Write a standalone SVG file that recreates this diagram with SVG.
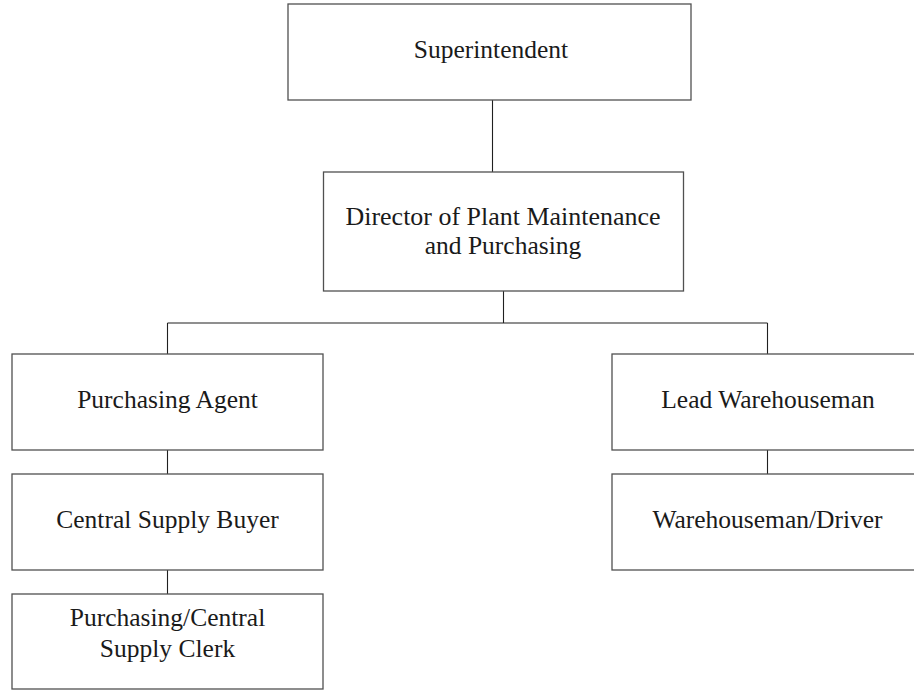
<svg xmlns="http://www.w3.org/2000/svg" width="914" height="690" viewBox="0 0 914 690">
<style>
.box{fill:#fff;stroke:#505050;stroke-width:1.3}
.lbl{font-family:"Liberation Serif","Times New Roman",serif;font-size:25.5px;fill:#1a1a1a;text-anchor:middle}
.con{stroke:#202020;stroke-width:1.1;fill:none}
</style>
<rect width="914" height="690" fill="#fff"/>
<g id="connectors">
<line class="con" x1="492.5" y1="100" x2="492.5" y2="172"/>
<line class="con" x1="503.5" y1="291" x2="503.5" y2="323"/>
<line class="con" x1="167.5" y1="323" x2="767.5" y2="323"/>
<line class="con" x1="167.5" y1="323" x2="167.5" y2="354"/>
<line class="con" x1="767.5" y1="323" x2="767.5" y2="354"/>
<line class="con" x1="167.5" y1="450" x2="167.5" y2="474"/>
<line class="con" x1="167.5" y1="570" x2="167.5" y2="594"/>
<line class="con" x1="767.5" y1="450" x2="767.5" y2="474"/>
</g>
<g id="superintendent">
<rect class="box" x="288" y="4" width="403" height="96"/>
<text class="lbl" x="491" y="58">Superintendent</text>
</g>
<g id="director">
<rect class="box" x="323.5" y="172" width="360" height="119"/>
<text class="lbl" x="503" y="225" textLength="315" lengthAdjust="spacingAndGlyphs">Director of Plant Maintenance</text>
<text class="lbl" x="503" y="254">and Purchasing</text>
</g>
<g id="purchasing-agent">
<rect class="box" x="12" y="354" width="311" height="96"/>
<text class="lbl" x="167.5" y="408">Purchasing Agent</text>
</g>
<g id="central-supply-buyer">
<rect class="box" x="12" y="474" width="311" height="96"/>
<text class="lbl" x="167.5" y="528">Central Supply Buyer</text>
</g>
<g id="purchasing-clerk">
<rect class="box" x="12" y="594" width="311" height="95"/>
<text class="lbl" x="167.5" y="626">Purchasing/Central</text>
<text class="lbl" x="167.5" y="657">Supply Clerk</text>
</g>
<g id="lead-warehouseman">
<rect class="box" x="612" y="354" width="311" height="96"/>
<text class="lbl" x="768" y="408">Lead Warehouseman</text>
</g>
<g id="warehouseman-driver">
<rect class="box" x="612" y="474" width="311" height="96"/>
<text class="lbl" x="767.5" y="528">Warehouseman/Driver</text>
</g>
</svg>
